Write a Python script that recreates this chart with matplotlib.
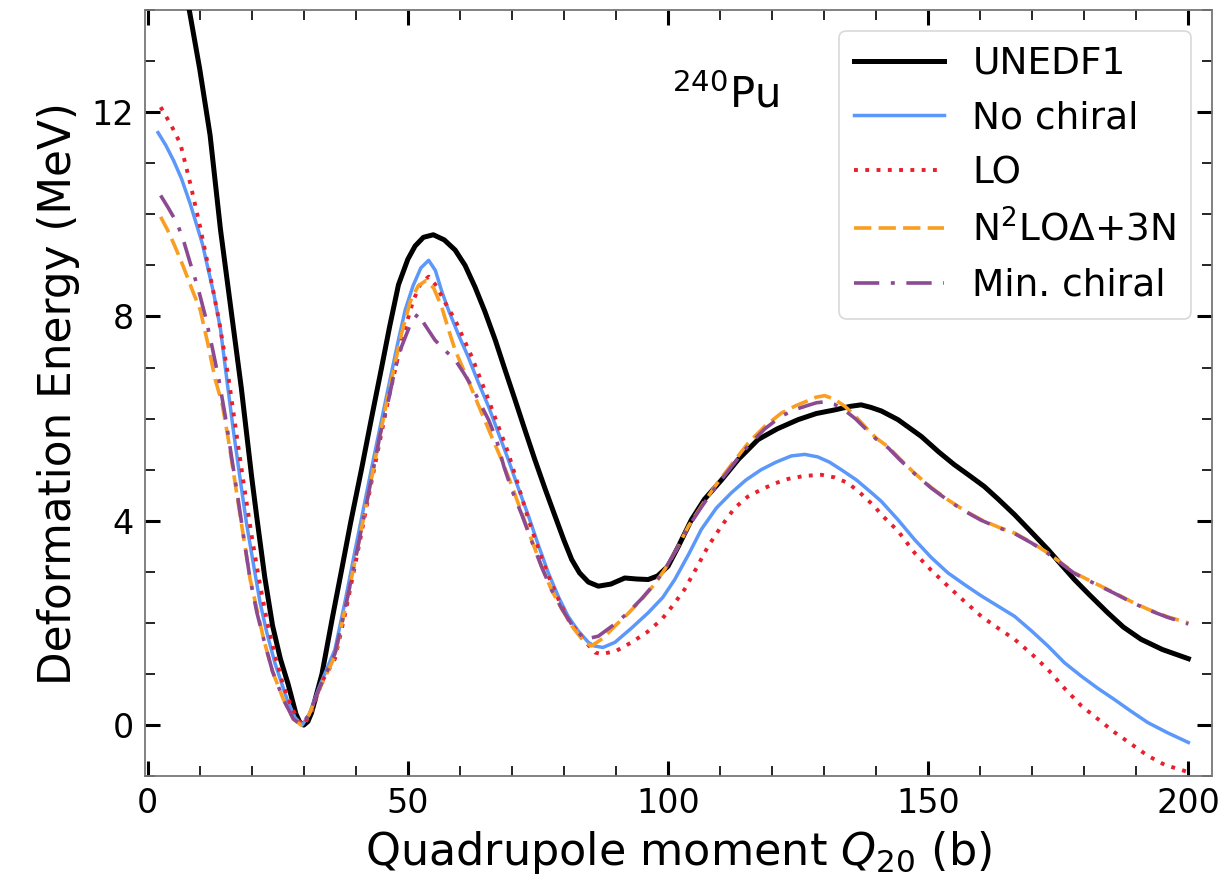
import matplotlib
matplotlib.use("Agg")
import matplotlib.pyplot as plt
from matplotlib.ticker import MultipleLocator

# ---- data (Q20 in b, energy in MeV) ----
unedf1_x = [2, 5, 8, 10, 12, 14, 16, 18, 20, 21, 22.5, 24, 25.5, 27, 28.5, 29.2, 30, 30.8, 31.5,
            33.5, 35.5, 37.3, 39, 41.2, 43, 45, 46.5, 48.2, 50, 51.4, 53, 54.9, 57, 59.1, 61,
            62.9, 64.8, 66.8, 68.7, 70.6, 72.5, 74.4, 76.4, 78.3, 80, 81.5, 83, 84.7, 86.6, 89,
            91.7, 94, 96.2, 98, 100, 102, 104.5, 107, 110.3, 113.5, 117.3, 121, 125, 128.5, 132,
            135, 137.1, 139, 141, 144.2, 148.7, 152, 155, 158, 160.8, 163.5, 166.6, 170, 173,
            175.5, 178.1, 181, 184.5, 187.5, 190.9, 195, 200]
unedf1_y = [16.8, 15.5, 14.0, 12.85, 11.55, 9.7, 8.15, 6.6, 4.85, 4.05, 2.9, 1.95, 1.3, 0.8, 0.22,
            0.06, 0.0, 0.07, 0.24, 1.0, 2.1, 3.05, 3.96, 5.06, 6.0, 7.02, 7.8, 8.62, 9.12, 9.38,
            9.55, 9.6, 9.5, 9.3, 9.0, 8.58, 8.1, 7.54, 6.95, 6.37, 5.78, 5.2, 4.62, 4.09, 3.62,
            3.24, 2.98, 2.8, 2.72, 2.76, 2.88, 2.86, 2.85, 2.92, 3.11, 3.5, 4.02, 4.42, 4.8, 5.2,
            5.59, 5.8, 5.98, 6.1, 6.17, 6.24, 6.27, 6.22, 6.15, 5.98, 5.65, 5.35, 5.1, 4.88, 4.67,
            4.42, 4.12, 3.76, 3.44, 3.15, 2.85, 2.55, 2.2, 1.92, 1.68, 1.48, 1.3]

nochiral_x = [2, 3.5, 5, 6.5, 8.2, 10.5, 12.7, 14, 15.3, 16.5, 17.8, 19, 20.4, 21.6, 22.9, 24.5,
              26.8, 28.3, 29.7, 31, 33, 36, 38, 39.9, 41.5, 43.1, 44.7, 46.3, 48, 49.5, 51, 52.5,
              54, 55.3, 56.5, 57.8, 59.7, 61.6, 63.5, 65.5, 67.4, 69.3, 71.2, 73.2, 75.1, 77, 79,
              80.8, 82.7, 84.7, 85.8, 87.5, 89.8, 93, 96.2, 99, 101.3, 104, 106.4, 109.3, 112.2,
              115, 117.9, 120.8, 123.7, 126.3, 128.8, 131, 133.3, 136.2, 139.1, 141, 144.2, 147.4,
              150.6, 153.8, 157, 160.2, 163.4, 166.6, 169.8, 173, 176.2, 179.4, 182.6, 185.8, 189,
              192.2, 196, 200]
nochiral_y = [11.6, 11.35, 11.05, 10.7, 10.2, 9.43, 8.45, 7.75, 6.7, 5.75, 4.8, 3.95, 3.11, 2.4,
              1.81, 1.2, 0.5, 0.15, 0.0, 0.2, 0.75, 1.48, 2.45, 3.44, 4.25, 5.06, 5.85, 6.63, 7.45,
              8.13, 8.6, 8.95, 9.1, 8.9, 8.5, 8.13, 7.65, 7.21, 6.72, 6.24, 5.72, 5.2, 4.65, 4.09,
              3.52, 2.98, 2.5, 2.13, 1.85, 1.62, 1.55, 1.52, 1.62, 1.9, 2.2, 2.5, 2.85, 3.35, 3.83,
              4.25, 4.55, 4.8, 5.0, 5.15, 5.27, 5.3, 5.25, 5.15, 5.0, 4.8, 4.55, 4.38, 4.02, 3.63,
              3.28, 2.98, 2.75, 2.53, 2.33, 2.13, 1.85, 1.55, 1.22, 0.96, 0.72, 0.5, 0.27, 0.05,
              -0.15, -0.34]

lo_x = [2.5, 4.5, 6.3, 8.2, 10.1, 12.05, 13.7, 15.6, 17, 18.5, 20, 21.5, 23, 24.5, 26, 27.5, 29,
        30, 31.5, 33.5, 36, 38, 40, 43, 46.3, 49, 51, 52.5, 54, 55.5, 57, 59.1, 62.3, 65.5, 67.4,
        69.3, 71.2, 73.2, 75.1, 77, 79, 80.8, 83.5, 86, 87.2, 90, 93, 96, 98.8, 101, 103.2, 105.5,
        107.7, 110.3, 112.8, 115.3, 117.9, 120.5, 123.1, 126.3, 129.5, 132, 134.6, 137.2, 139.7,
        141, 144.2, 147.4, 150.6, 153.8, 157, 160.2, 163.4, 166.6, 169.8, 173, 176.2, 179.4,
        182.6, 185.8, 189, 192.2, 195.5, 200]
lo_y = [12.1, 11.75, 11.38, 10.6, 9.75, 8.78, 7.93, 6.76, 5.75, 4.7, 3.7, 2.8, 2.0, 1.35, 0.8,
        0.38, 0.08, 0.0, 0.25, 0.85, 1.3, 2.2, 3.2, 4.75, 6.4, 7.6, 8.3, 8.65, 8.78, 8.6, 8.3,
        7.93, 7.21, 6.37, 5.85, 5.33, 4.7, 4.02, 3.45, 2.92, 2.45, 2.07, 1.7, 1.42, 1.39, 1.45,
        1.62, 1.82, 2.07, 2.35, 2.66, 3.08, 3.5, 3.9, 4.25, 4.47, 4.61, 4.73, 4.82, 4.88, 4.9,
        4.85, 4.74, 4.52, 4.28, 4.12, 3.8, 3.37, 3.03, 2.72, 2.42, 2.13, 1.9, 1.68, 1.4, 1.09,
        0.72, 0.38, 0.12, -0.14, -0.37, -0.6, -0.78, -0.92]

n2lo_x = [2.5, 3.8, 5, 6.3, 7.6, 8.8, 10.1, 11.5, 13, 14.3, 15.5, 17.2, 19.7, 22.3, 24, 26.1, 28,
          29.5, 31, 33, 36, 38, 39.9, 41.5, 43.1, 44.7, 46.3, 48.8, 50.5, 52, 53.6, 55, 56.5,
          57.8, 59.1, 61, 62.6, 64.2, 66.1, 68, 70, 71.9, 73.8, 75.7, 77.6, 79.6, 81.8, 84, 85.3,
          87.5, 89.8, 92.3, 94.9, 97.2, 99.4, 101.7, 103.9, 106.5, 109, 112.2, 115.4, 118.6,
          121.8, 124.5, 126.9, 128.5, 130.1, 132, 134, 136, 137.8, 140, 142.3, 144.5, 147.4,
          150.6, 153.8, 157, 160.2, 163.4, 166.6, 169.8, 173, 175.5, 178.1, 182, 185.8, 189,
          192.2, 196, 200]
n2lo_y = [9.95, 9.7, 9.43, 9.12, 8.78, 8.46, 8.13, 7.5, 6.76, 6.3, 5.6, 4.48, 2.85, 1.68, 1.05,
          0.5, 0.12, 0.0, 0.2, 0.7, 1.35, 2.3, 3.24, 4.05, 4.87, 5.7, 6.5, 7.67, 8.3, 8.6, 8.71,
          8.55, 8.19, 7.75, 7.34, 6.89, 6.5, 6.11, 5.65, 5.2, 4.68, 4.15, 3.62, 3.11, 2.65, 2.27,
          1.9, 1.62, 1.55, 1.7, 1.94, 2.18, 2.46, 2.73, 3.05, 3.45, 3.89, 4.3, 4.67, 5.1, 5.52,
          5.85, 6.11, 6.25, 6.35, 6.42, 6.45, 6.38, 6.24, 6.05, 5.85, 5.62, 5.45, 5.22, 4.93,
          4.65, 4.41, 4.2, 4.02, 3.88, 3.76, 3.58, 3.37, 3.18, 2.98, 2.78, 2.59, 2.42, 2.27, 2.12,
          2.0]

minchiral_x = [2.5, 4, 5.7, 7, 8.2, 9.7, 11.1, 12.4, 13.7, 15, 16.2, 17.2, 18.5, 19.7, 21, 22.3,
               24, 26.1, 28, 29.5, 31, 33, 36, 38, 39.9, 41.5, 43.1, 44.7, 46.3, 47.5, 48.8, 50.5,
               52, 53.2, 55.2, 57, 59.1, 60.7, 62.3, 63.9, 65.5, 67, 68.5, 70, 71.9, 73.8, 75.7,
               77.6, 79.6, 81.8, 84, 86.6, 89.8, 92.3, 94.9, 97.2, 99.4, 101.7, 103.9, 106.5, 109,
               112.2, 115.4, 118.6, 121.8, 124.5, 126.9, 128.5, 130.1, 132, 134, 136, 137.8, 140,
               142.3, 144.5, 147.4, 150.6, 153.8, 157, 160.2, 163.4, 166.6, 169.8, 173, 175.5,
               178.1, 182, 185.8, 189, 192.2, 196, 200]
minchiral_y = [10.37, 10.12, 9.82, 9.45, 9.04, 8.55, 8.0, 7.4, 6.76, 6.0, 5.2, 4.55, 3.65, 2.85,
               2.2, 1.68, 1.05, 0.5, 0.12, 0.0, 0.2, 0.72, 1.4, 2.3, 3.24, 4.05, 4.87, 5.7, 6.37,
               6.95, 7.41, 7.85, 8.06, 7.85, 7.54, 7.35, 7.15, 6.9, 6.63, 6.3, 5.98, 5.6, 5.05,
               4.6, 4.12, 3.6, 3.1, 2.65, 2.28, 1.92, 1.68, 1.74, 1.98, 2.2, 2.47, 2.74, 3.05, 3.45,
               3.88, 4.28, 4.64, 5.06, 5.47, 5.8, 6.05, 6.18, 6.26, 6.31, 6.33, 6.28, 6.16, 6.0,
               5.82, 5.6, 5.43, 5.2, 4.92, 4.64, 4.4, 4.19, 4.01, 3.87, 3.75, 3.57, 3.36, 3.17,
               2.97, 2.77, 2.58, 2.41, 2.26, 2.11, 1.98]

labels = ["UNEDF1", "No chiral", "LO", r"N$^2$LO$\Delta$+3N", "Min. chiral"]
colors = ["black", "#5b98fa", "#e8202e", "#fa9e22", "#8c4a92"]

fig = plt.figure(figsize=(12.24, 8.8), dpi=100)
ax = fig.add_axes([0.1185, 0.118, 0.8715, 0.8706])

ax.plot(unedf1_x, unedf1_y, color=colors[0], lw=3.6, label=labels[0], zorder=3)
ax.plot(nochiral_x, nochiral_y, color=colors[1], lw=2.5, label=labels[1], zorder=4)
ax.plot(lo_x, lo_y, color=colors[2], lw=2.8, linestyle=(0, (1, 1.9)), label=labels[2], zorder=5)
ax.plot(n2lo_x, n2lo_y, color=colors[3], lw=2.6, linestyle=(0, (4.8, 2.0)), label=labels[3], zorder=5)
ax.plot(minchiral_x, minchiral_y, color=colors[4], lw=2.6,
        linestyle=(0, (7, 3.2, 1.1, 3.2)), label=labels[4], zorder=6)

ax.set_xlim(-0.5, 204.5)
ax.set_ylim(-1, 14)
ax.xaxis.set_major_locator(MultipleLocator(50))
ax.xaxis.set_minor_locator(MultipleLocator(10))
ax.yaxis.set_major_locator(MultipleLocator(4))
ax.yaxis.set_minor_locator(MultipleLocator(1))
ax.tick_params(which='both', direction='in', top=True, right=True, labelsize=24)
ax.tick_params(which='major', length=11, width=2.2, pad=8)
ax.tick_params(which='minor', length=7, width=1.2)
for s in ax.spines.values():
    s.set_color('#777777')
    s.set_linewidth(1.3)

ax.set_xlabel(r"Quadrupole moment $Q_{20}$ (b)", fontsize=32, labelpad=6)
ax.set_ylabel("Deformation Energy (MeV)", fontsize=31.5, labelpad=8)

ax.text(0.494, 0.889, r"$^{240}$Pu", transform=ax.transAxes, fontsize=30,
        ha='left', va='center')

leg = ax.legend(loc='upper right', fontsize=27, handlelength=2.4, labelspacing=0.5,
                borderaxespad=0.55, frameon=True, fancybox=True, handletextpad=0.75,
                borderpad=0.4)
leg.get_frame().set_edgecolor('#d0d0d0')
leg.get_frame().set_linewidth(1.2)

fig.savefig("out.png", dpi=100)
